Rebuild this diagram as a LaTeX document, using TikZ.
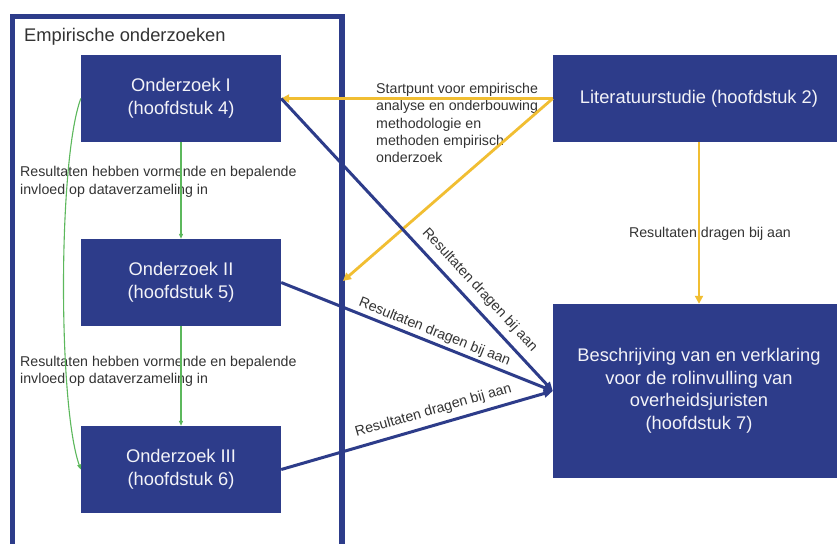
\documentclass[tikz,border=0pt]{standalone}
\usepackage{fontspec}
\setmainfont{Liberation Sans}
\usetikzlibrary{arrows.meta}
\definecolor{navy}{HTML}{2D3C8A}
\definecolor{geel}{HTML}{F1BE32}
\definecolor{groen}{HTML}{5CB85C}
\definecolor{tekst}{HTML}{333333}

\begin{document}
\begin{tikzpicture}[x=1pt, y=-1pt,
    blok/.style={fill=navy, text=white!94!navy, inner sep=0pt, align=center,
      minimum width=200pt, minimum height=87pt, font=\fontsize{18.3}{22.5}\selectfont},
    uitleg/.style={text=tekst, inner sep=0pt, align=left, font=\fontsize{14.2}{17.3}\selectfont},
    pijltekst/.style={uitleg, sloped, anchor=south},
    blauwpijl/.style={-{Triangle[length=9pt, width=8pt]}, navy, line width=3pt},
    geelpijl/.style={-{Triangle[length=8pt, width=8pt]}, geel, line width=2.8pt},
    groenpijl/.style={-{Triangle[length=5pt, width=4pt]}, groen, line width=1.1pt}]
    \clip (0,0) rectangle (837,543);
    \fill[white] (0,0) rectangle (837,543);

    % Kader
    \draw[navy, line width=5.5pt] (12.5,16.5) rectangle (342,560);
    \node[uitleg, anchor=north west, font=\fontsize{18.3}{22.5}\selectfont] (titel) at (24,28) {Empirische onderzoeken};

    % Knopen
    \node[blok] (ond1) at (181,98.5) {Onderzoek I\\(hoofdstuk 4)};
    \node[blok] (ond2) at (181,282.5) {Onderzoek II\\(hoofdstuk 5)};
    \node[blok] (ond3) at (181,469.5) {Onderzoek III\\(hoofdstuk 6)};
    \node[blok, minimum width=292pt] (lit) at (699,98.5) {Literatuurstudie (hoofdstuk 2)};
    \node[blok, minimum width=292pt, minimum height=174pt] (besch) at (699,391)
      {Beschrijving van en verklaring\\voor de rolinvulling van\\overheidsjuristen\\(hoofdstuk 7)};
    \coordinate (eindgeel) at (343,281);

    % Teksten
    \node[uitleg, anchor=north west] (invloed1) at (20,166.5)
      {Resultaten hebben vormende en bepalende\\invloed op dataverzameling in};
    \node[uitleg, anchor=north west] (invloed2) at (20,356)
      {Resultaten hebben vormende en bepalende\\invloed op dataverzameling in};
    \node[uitleg, anchor=north west] (startpunt) at (376,83)
      {Startpunt voor empirische\\analyse en onderbouwing\\methodologie en\\methoden empirisch\\onderzoek};

    % Pijlen
    \draw[groenpijl] (ond1) -- (ond2);
    \draw[groenpijl] (ond2) -- (ond3);
    \draw[groenpijl] (ond1.west) .. controls (58,160) and (58,405) .. (ond3.west);
    \draw[geelpijl] (lit.west) -- (ond1.east);
    \draw[geelpijl] (lit.west) -- (eindgeel);
    \draw[geelpijl] (lit) -- (besch)
      node[uitleg, pos=.52, anchor=north, xshift=11pt] {Resultaten dragen bij aan};
    \draw[blauwpijl] (ond1.east) -- (besch.west)
      node[pijltekst, pos=.69, inner sep=7pt] {Resultaten dragen bij aan};
    \draw[blauwpijl] (ond2.east) -- (besch.west)
      node[pijltekst, pos=.55, inner sep=2.5pt] {Resultaten dragen bij aan};
    \draw[blauwpijl] (ond3.east) -- (besch.west)
      node[pijltekst, pos=.575, inner sep=6pt] {Resultaten dragen bij aan};
\end{tikzpicture}
\end{document}
